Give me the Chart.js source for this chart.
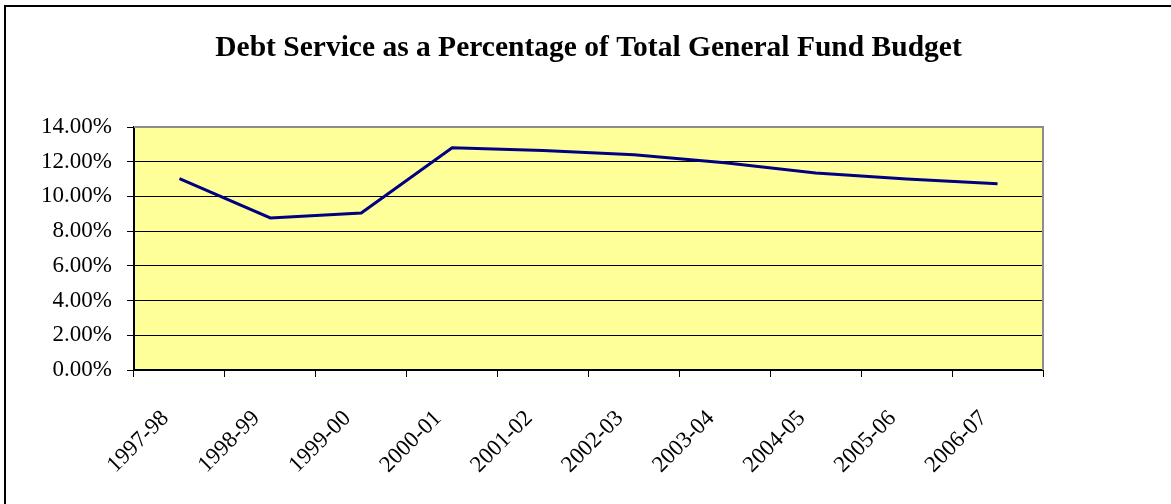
<!DOCTYPE html>
<html>
<head>
<meta charset="utf-8">
<script src="https://cdn.jsdelivr.net/npm/chart.js@4/dist/chart.umd.min.js"></script>
<style>
  html, body { margin: 0; padding: 0; background: #fff; }
  #wrap { width: 1171px; height: 504px; }
</style>
</head>
<body>
<div id="wrap"><canvas id="c" width="1171" height="504"></canvas></div>
<script>
const categories = ['1997-98', '1998-99', '1999-00', '2000-01', '2001-02', '2002-03', '2003-04', '2004-05', '2005-06', '2006-07'];
const debtServicePct = [11.02, 8.76, 9.04, 12.80, 12.65, 12.40, 11.94, 11.35, 11.00, 10.73];
const yTickMin = 0;
const yTickMax = 14;
const yTickStep = 2;
const chartTitle = 'Debt Service as a Percentage of Total General Fund Budget';

const FONT = '"Liberation Serif", "Times New Roman", serif';

const decor = {
  id: 'decor',
  beforeDraw(chart) {
    const { ctx, chartArea: a } = chart;
    ctx.save();
    ctx.fillStyle = '#ffffff';
    ctx.fillRect(0, 0, chart.width, chart.height);
    ctx.fillStyle = '#FFFF99';
    ctx.fillRect(a.left, a.top, a.right - a.left, a.bottom - a.top);
    ctx.restore();
  },
  afterDraw(chart) {
    const { ctx, chartArea: a } = chart;
    ctx.save();
    ctx.strokeStyle = '#8c8c8c';
    ctx.lineWidth = 2;
    ctx.beginPath();
    ctx.moveTo(a.left, a.top);
    ctx.lineTo(a.right, a.top);
    ctx.lineTo(a.right, a.bottom);
    ctx.stroke();
    ctx.strokeStyle = '#000000';
    ctx.lineWidth = 2;
    ctx.beginPath();
    ctx.moveTo(5, chart.height + 5);
    ctx.lineTo(5, 6);
    ctx.lineTo(chart.width + 5, 6);
    ctx.stroke();
    ctx.restore();
  }
};

new Chart(document.getElementById('c'), {
  type: 'line',
  data: {
    labels: categories,
    datasets: [{
      data: debtServicePct,
      borderColor: '#000080',
      borderWidth: 3,
      pointRadius: 0,
      tension: 0,
      fill: false
    }]
  },
  options: {
    responsive: false,
    animation: false,
    devicePixelRatio: 1,
    layout: { padding: { left: 0, right: 128, top: 0, bottom: 0 } },
    plugins: {
      legend: { display: false },
      tooltip: { enabled: false },
      title: {
        display: true,
        text: chartTitle,
        fullSize: false,
        color: '#000',
        font: { family: FONT, size: 29.5, weight: 'bold' },
        padding: { top: 31, bottom: 60.6 }
      }
    },
    scales: {
      x: {
        type: 'category',
        offset: true,
        afterFit(scale) { scale.height = 134; },
        grid: {
          display: true,
          offset: true,
          drawOnChartArea: false,
          drawTicks: true,
          tickLength: 7,
          tickColor: '#000',
          tickWidth: 1
        },
        border: { display: true, color: '#000', width: 2 },
        ticks: {
          autoSkip: false,
          minRotation: 45,
          maxRotation: 45,
          padding: 28,
          labelOffset: -14,
          color: '#000',
          font: { family: FONT, size: 23 }
        }
      },
      y: {
        min: yTickMin,
        max: yTickMax,
        afterFit(scale) { scale.width = 134; },
        grid: {
          color: '#000',
          lineWidth: 1,
          drawTicks: true,
          tickLength: 7,
          tickColor: '#000'
        },
        border: { display: true, color: '#000', width: 2 },
        ticks: {
          stepSize: yTickStep,
          padding: 15,
          color: '#000',
          font: { family: FONT, size: 23 },
          callback: (v) => Number(v).toFixed(2) + '%'
        }
      }
    }
  },
  plugins: [decor]
});
</script>
</body>
</html>
